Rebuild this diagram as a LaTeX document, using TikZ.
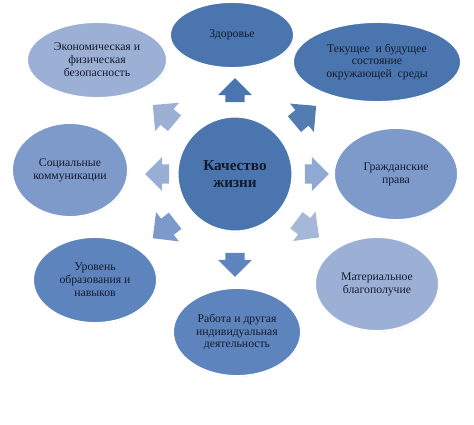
\documentclass[tikz,border=0pt]{standalone}
\usepackage{fontspec}
\setmainfont{Liberation Serif}
\usepackage{xcolor}
\usepackage{tikz}
\usetikzlibrary{arrows.meta, positioning, shapes.geometric, shapes.arrows, shadows, calc}
\definecolor{lifeDark}{HTML}{4A75AE}
\definecolor{lifeMid}{HTML}{5E84BE}
\definecolor{lifeSoft}{HTML}{7D9ACB}
\definecolor{lifeLight}{HTML}{9CB0D6}
\definecolor{lifeText}{HTML}{141A2C}

\begin{document}
\begin{tikzpicture}[
  font=\fontsize{10}{11}\selectfont,
  sphere/.style={ellipse, draw=white, line width=1.6pt, align=center, text=lifeText, inner sep=1pt,
                 drop shadow={shadow xshift=0.5pt, shadow yshift=-0.7pt, opacity=0.35, fill=gray}},
  hub/.style={circle, draw=white, line width=1.8pt, fill=lifeDark, minimum size=3.45cm, align=center,
              text=lifeText, font=\fontsize{13}{14}\selectfont\bfseries,
              drop shadow={shadow xshift=0.5pt, shadow yshift=-0.7pt, opacity=0.35, fill=gray}},
  push/.style={single arrow, draw=none, inner xsep=0pt, inner ysep=0.28cm, minimum height=0.72cm,
               minimum width=1.0cm, single arrow head extend=0.22cm, rotate=#1},
  slant/.style={push=#1, minimum height=0.85cm, minimum width=1.1cm, inner ysep=0.3cm,
                single arrow head extend=0.25cm}
]
\useasboundingbox (-7.05,-7.53) rectangle (7.17,5.22);
\node[hub] (core) at (0,0) {Качество\\жизни};
% outer circle of factors
\node[sphere, fill=lifeDark, minimum width=3.72cm, minimum height=1.98cm] (health) at (-0.09,4.17) {Здоровье};
\node[sphere, fill=lifeDark, minimum width=5.04cm, minimum height=2.4cm] (nature) at (4.26,3.36) {Текущее\ \ и будущее\\состояние\\окружающей\ \ среды};
\node[sphere, fill=lifeLight, minimum width=4.2cm, minimum height=2.28cm] (safety) at (-4.14,3.42) {Экономическая и\\физическая\\безопасность};
\node[sphere, fill=lifeSoft, minimum width=3.48cm, minimum height=2.82cm] (social) at (-4.95,0.12) {Социальные\\коммуникации};
\node[sphere, fill=lifeSoft, minimum width=3.72cm, minimum height=2.76cm] (rights) at (4.83,0) {Гражданские\\права};
\node[sphere, fill=lifeMid, minimum width=3.72cm, minimum height=2.58cm] (skills) at (-4.2,-3.18) {Уровень\\образования и\\навыков};
\node[sphere, fill=lifeMid, minimum width=3.84cm, minimum height=2.64cm] (work) at (0.06,-4.74) {Работа и другая\\индивидуальная\\деятельность};
\node[sphere, fill=lifeLight, minimum width=3.72cm, minimum height=2.82cm] (wealth) at (4.26,-3.3) {Материальное\\благополучие};
% block arrows out of the hub
\node[push=90, fill=lifeDark] (toHealth) at ($(core)+(90:2.37)$) {};
\node[slant=40, fill=lifeDark!95] (toNature) at ($(core)+(40:2.6)$) {};
\node[push=0, fill=lifeSoft!85] (toRights) at ($(core)+(0:2.31)$) {};
\node[slant=-37, fill=lifeLight!90] (toWealth) at ($(core)+(-37:2.58)$) {};
\node[push=-90, fill=lifeMid] (toWork) at ($(core)+(-90:2.58)$) {};
\node[slant=-142, fill=lifeSoft!95!lifeMid] (toSkills) at ($(core)+(-142:2.55)$) {};
\node[push=180, fill=lifeLight!90!lifeSoft] (toSocial) at ($(core)+(180:2.19)$) {};
\node[slant=140, fill=lifeLight] (toSafety) at ($(core)+(140:2.64)$) {};
\end{tikzpicture}
\end{document}
